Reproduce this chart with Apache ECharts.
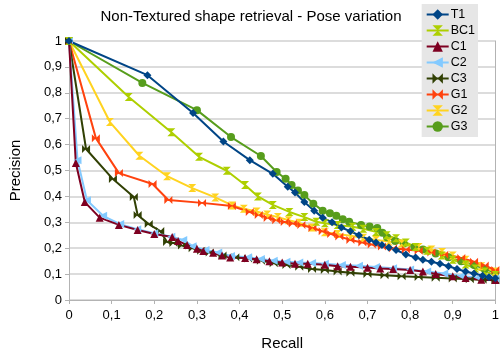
<!DOCTYPE html>
<html>
<head>
<meta charset="utf-8">
<script src="https://cdn.jsdelivr.net/npm/echarts@6/dist/echarts.min.js"></script>
<style>html,body{margin:0;padding:0;background:#fff}#c{width:502px;height:356px}</style>
</head>
<body>
<div id="c"></div>
<script>
const seriesNames = ['T1','BC1','C1','C2','C3','G1','G2','G3'];
const T1 = [[0,1],[0.184,0.868],[0.291,0.722],[0.362,0.612],[0.424,0.54],[0.478,0.487],[0.513,0.437],[0.53,0.415],[0.552,0.378],[0.575,0.345],[0.595,0.318],[0.617,0.3],[0.639,0.28],[0.66,0.265],[0.68,0.25],[0.704,0.233],[0.72,0.222],[0.734,0.212],[0.75,0.203],[0.767,0.193],[0.79,0.176],[0.813,0.164],[0.83,0.155],[0.85,0.148],[0.87,0.14],[0.89,0.13],[0.91,0.12],[0.93,0.11],[0.95,0.102],[0.97,0.094],[0.985,0.088],[1,0.084]];
const BC1 = [[0,1],[0.14,0.784],[0.24,0.648],[0.305,0.553],[0.37,0.499],[0.413,0.444],[0.443,0.4],[0.478,0.367],[0.517,0.34],[0.552,0.32],[0.58,0.302],[0.6,0.296],[0.63,0.29],[0.665,0.283],[0.69,0.275],[0.72,0.263],[0.745,0.25],[0.767,0.238],[0.79,0.222],[0.813,0.205],[0.84,0.19],[0.874,0.172],[0.9,0.155],[0.93,0.137],[0.953,0.122],[0.975,0.11],[1,0.097]];
const C1 = [[0,1],[0.016,0.529],[0.037,0.378],[0.072,0.318],[0.117,0.29],[0.161,0.27],[0.2,0.255],[0.242,0.243],[0.256,0.228],[0.277,0.212],[0.3,0.198],[0.315,0.189],[0.338,0.182],[0.359,0.172],[0.378,0.164],[0.413,0.162],[0.44,0.157],[0.47,0.15],[0.5,0.145],[0.53,0.14],[0.56,0.14],[0.6,0.136],[0.63,0.13],[0.66,0.128],[0.7,0.125],[0.73,0.122],[0.76,0.12],[0.8,0.116],[0.83,0.11],[0.86,0.1],[0.9,0.092],[0.93,0.085],[0.967,0.078],[1,0.077]];
const C2 = [[0,1],[0.02,0.54],[0.042,0.385],[0.08,0.325],[0.12,0.293],[0.16,0.273],[0.2,0.258],[0.24,0.244],[0.268,0.232],[0.29,0.208],[0.32,0.193],[0.35,0.183],[0.38,0.17],[0.42,0.165],[0.45,0.158],[0.48,0.152],[0.51,0.148],[0.54,0.145],[0.57,0.143],[0.6,0.14],[0.64,0.135],[0.68,0.132],[0.72,0.127],[0.76,0.123],[0.8,0.118],[0.84,0.11],[0.88,0.102],[0.92,0.093],[0.96,0.086],[1,0.083]];
const C3 = [[0,1],[0.04,0.583],[0.103,0.467],[0.152,0.398],[0.161,0.328],[0.187,0.293],[0.214,0.266],[0.23,0.224],[0.245,0.22],[0.265,0.21],[0.29,0.2],[0.31,0.19],[0.33,0.183],[0.36,0.172],[0.39,0.165],[0.42,0.16],[0.45,0.152],[0.48,0.142],[0.51,0.135],[0.54,0.128],[0.57,0.12],[0.6,0.116],[0.63,0.11],[0.66,0.105],[0.7,0.1],[0.74,0.096],[0.78,0.092],[0.82,0.089],[0.86,0.086],[0.9,0.083],[0.94,0.08],[0.97,0.078],[1,0.076]];
const G1 = [[0,1],[0.063,0.625],[0.117,0.49],[0.196,0.448],[0.233,0.386],[0.312,0.375],[0.382,0.363],[0.424,0.34],[0.445,0.328],[0.466,0.317],[0.486,0.308],[0.506,0.301],[0.525,0.295],[0.545,0.29],[0.571,0.278],[0.595,0.265],[0.615,0.255],[0.634,0.245],[0.66,0.232],[0.688,0.222],[0.71,0.214],[0.734,0.207],[0.76,0.2],[0.79,0.195],[0.82,0.19],[0.85,0.183],[0.88,0.175],[0.92,0.162],[0.95,0.148],[0.975,0.133],[1,0.116]];
const G2 = [[0,1],[0.096,0.687],[0.165,0.557],[0.23,0.478],[0.289,0.432],[0.343,0.396],[0.383,0.365],[0.41,0.352],[0.44,0.342],[0.465,0.33],[0.49,0.32],[0.515,0.308],[0.54,0.298],[0.57,0.28],[0.6,0.262],[0.63,0.255],[0.66,0.248],[0.69,0.24],[0.72,0.232],[0.75,0.226],[0.78,0.218],[0.82,0.205],[0.85,0.195],[0.875,0.185],[0.9,0.172],[0.93,0.155],[0.967,0.13],[1,0.11]];
const G3 = [[0,1],[0.172,0.838],[0.30,0.733],[0.38,0.629],[0.45,0.556],[0.487,0.494],[0.508,0.468],[0.522,0.444],[0.537,0.423],[0.552,0.405],[0.573,0.372],[0.595,0.345],[0.612,0.335],[0.627,0.325],[0.642,0.312],[0.657,0.302],[0.685,0.29],[0.705,0.284],[0.723,0.278],[0.735,0.26],[0.746,0.242],[0.765,0.228],[0.785,0.218],[0.81,0.205],[0.83,0.195],[0.86,0.18],[0.89,0.165],[0.92,0.15],[0.95,0.135],[0.975,0.12],[1,0.105]];
const axisTicks = [0,0.1,0.2,0.3,0.4,0.5,0.6,0.7,0.8,0.9,1];

const dataMap = {T1, BC1, C1, C2, C3, G1, G2, G3};
const colors = {T1:'#004586',BC1:'#aecf00',C1:'#7e0021',C2:'#83caff',C3:'#314004',G1:'#ff420e',G2:'#ffd320',G3:'#579d1c'};
const hourglass = 'path://M0,0 L10,0 L0,10 L10,10 Z';
const bowtie = 'path://M0,0 L10,10 L10,0 L0,10 Z';
const triLeft = 'path://M0,5 L10,0 L10,10 Z';
const symbols = {T1:['diamond',8],BC1:[hourglass,8],C1:['triangle',8],C2:[triLeft,8],C3:[bowtie,8],G1:[bowtie,8],G2:[hourglass,8],G3:['circle',8]};
const fmt = v => v === 0 ? '0' : v === 1 ? '1' : String(Math.round(v*10)/10).replace('.', ',');
const FONT = 'Liberation Sans';

const drawOrder = ['G3','G2','G1','C3','C2','C1','BC1','T1'];
const series = drawOrder.map(n => ({
  name: n, type: 'line', data: dataMap[n],
  symbol: symbols[n][0], symbolSize: symbols[n][1], showAllSymbol: true,
  lineStyle: {color: colors[n], width: 2},
  itemStyle: {color: colors[n]},
  emphasis: {disabled: true}, animation: false
}));

const chart = echarts.init(document.getElementById('c'));
chart.setOption({
  animation: false,
  title: {text: 'Non-Textured shape retrieval - Pose variation', left: 'center', top: 4,
    textStyle: {fontFamily: FONT, fontSize: 15, fontWeight: 'normal', color: '#000'}},
  legend: {
    data: seriesNames, orient: 'vertical', right: 24, top: 4,
    backgroundColor: '#e6e6e6', padding: [4, 3, 4, 4], itemGap: 3,
    itemWidth: 22, itemHeight: 13,
    textStyle: {fontFamily: FONT, fontSize: 12.5, color: '#000', padding: [0,0,0,-3]}
  },
  grid: {left: 68, right: 5, top: 41, bottom: 56},
  xAxis: {
    type: 'value', min: 0, max: 1, interval: 0.1,
    name: 'Recall', nameLocation: 'middle', nameGap: 36,
    nameTextStyle: {fontFamily: FONT, fontSize: 15, color: '#000'},
    axisLine: {show: true, lineStyle: {color: '#b3b3b3'}},
    axisTick: {show: true, length: 4, lineStyle: {color: '#b3b3b3'}},
    axisLabel: {formatter: fmt, fontFamily: FONT, fontSize: 13, color: '#000', margin: 9},
    splitLine: {show: false}
  },
  yAxis: [{
    type: 'value', min: 0, max: 1, interval: 0.1,
    name: 'Precision', nameLocation: 'middle', nameGap: 46, nameRotate: 90,
    nameTextStyle: {fontFamily: FONT, fontSize: 15, color: '#000'},
    axisLine: {show: true, lineStyle: {color: '#b3b3b3'}},
    axisTick: {show: true, length: 4, lineStyle: {color: '#b3b3b3'}},
    axisLabel: {formatter: fmt, fontFamily: FONT, fontSize: 13, color: '#000', margin: 7},
    splitLine: {show: true, lineStyle: {color: '#d0d0d0', width: 1.5}}
  }, {
    type: 'value', min: 0, max: 1, position: 'right',
    axisLine: {show: true, lineStyle: {color: '#b3b3b3'}},
    axisTick: {show: false}, axisLabel: {show: false}, splitLine: {show: false}
  }],
  series
});
</script>
</body>
</html>
